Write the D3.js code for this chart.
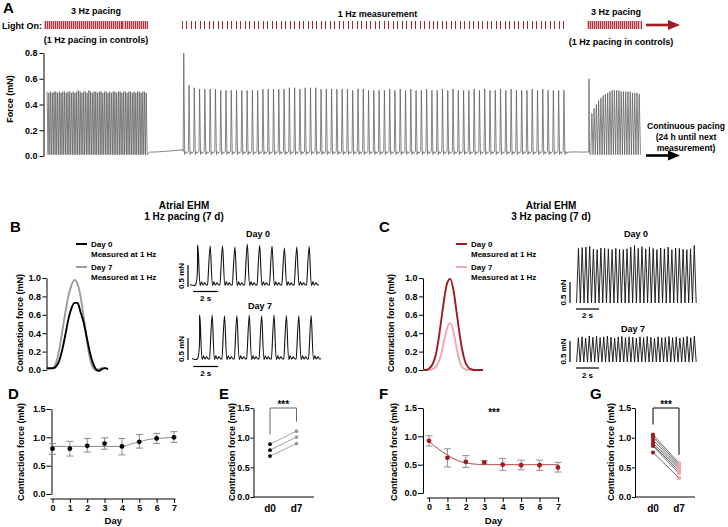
<!DOCTYPE html>
<html><head><meta charset="utf-8">
<script src="https://cdn.jsdelivr.net/npm/d3@7/dist/d3.min.js"></script>
<style>
html,body{margin:0;padding:0;background:#fff;}
svg text{font-family:"Liberation Sans",Arial,Helvetica,sans-serif;font-weight:bold;fill:#000;}
.axis text{font-size:9px;}
.axis path,.axis line{stroke:#000;stroke-width:1;}
</style></head>
<body>
<svg id="fig" width="728" height="527" viewBox="0 0 728 527"></svg>
<script>
// ================= DATA =================
// Panel A – continuous force recording (peak force per beat, mN)
const aForceTicks = [0, 0.2, 0.4, 0.6, 0.8];
const aStartPeaks = [0.50,0.49,0.50,0.49,0.50,0.50,0.49,0.50,0.49,0.50,
  0.50,0.49,0.50,0.50,0.49,0.50,0.49,0.50,0.51,0.50,
  0.49,0.50,0.50,0.49,0.51,0.50,0.49,0.50,0.50,0.49,
  0.50,0.50,0.49,0.50,0.50,0.49,0.50,0.49,0.50,0.50,
  0.49,0.50,0.50,0.49,0.50,0.50,0.49,0.50,0.50,0.49,
  0.50,0.49,0.50,0.50,0.49,0.50,0.50,0.49];
const aMeasurePeaks = [0.80,0.55,0.53,0.52,0.52,0.52,0.52,0.51,0.51,0.51,
  0.51,0.51,0.51,0.51,0.51,0.52,0.52,0.52,0.52,0.52,
  0.53,0.53,0.52,0.53,0.53,0.53,0.52,0.52,0.52,0.52,
  0.52,0.52,0.51,0.52,0.52,0.51,0.51,0.51,0.51,0.52,
  0.51,0.52,0.51,0.52,0.51,0.51,0.52,0.51,0.51,0.52,
  0.51,0.52,0.51,0.51,0.51,0.52,0.51,0.52,0.51,0.51,
  0.52,0.51,0.52,0.51,0.51,0.51,0.52,0.51,0.52,0.51,
  0.51,0.51,0.51];
const aEndSpike = 0.60;
const aEndPeaks = [0.33,0.37,0.40,0.43,0.45,0.47,0.48,0.49,0.50,0.51,0.51,
  0.51,0.51,0.50,0.50,0.50,0.50,0.50,0.49,0.49,0.49,0.48];
const aGap1Baseline = [[19.4,0.03],[21,0.032],[23,0.038],[25,0.045],[25.75,0.05]];
const aGap2Baseline = [[98.8,0.03],[100,0.032],[101.5,0.03],[102.5,0.032]];
const aPulsesStart = 52, aPulsesMeasure = 86, aPulsesEnd = 27;

// Panels B / C – averaged contraction (mN) sampled every 40 ms
const avgTimeMs = [0,40,80,120,160,200,240,280,320,360,400,440,480,520,560,600,640,680,720,760,800];
const avgTicks = [0, 0.2, 0.4, 0.6, 0.8, 1.0];
const bDay0Avg = [0.02,0.02,0.02,0.04,0.10,0.22,0.38,0.55,0.67,0.73,0.73,0.63,0.52,0.36,0.20,0.08,0.01,-0.01,0.01,0.02,0.01];
const bDay7Avg = [0.01,0.01,0.02,0.08,0.22,0.42,0.62,0.80,0.92,0.98,0.94,0.80,0.58,0.34,0.14,0.03,0.0,0.01,0.02,0.02,0.01];
const cDay0Avg = [0.0,0.0,0.02,0.06,0.15,0.32,0.55,0.78,0.95,0.99,0.88,0.66,0.42,0.22,0.09,0.03,0.01,0.0,0.0,0.0,0.0];
const cDay7Avg = [0.0,0.0,0.0,0.01,0.03,0.08,0.18,0.33,0.46,0.51,0.43,0.26,0.11,0.03,0.01,0.0,0.0,0.0,0.0,0.0,0.0];

// Panels B / C – example traces (peak force per beat, mN)
const bDay0Peaks = [0.91,0.89,0.89,0.86,0.93,0.90,0.89,0.84,0.86,0.88];
const bDay7Peaks = [1.00,1.00,0.98,0.99,1.00,0.98,1.00,0.99,0.98,0.99];
const cDay0Peaks = [1.30,1.32,1.33,1.35,1.28,1.27,1.31,1.30,1.29,1.27,
  1.30,1.28,1.27,1.29,1.33,1.37,1.30,1.34,1.29,1.33,
  1.30,1.27,1.31,1.29,1.33,1.27,1.31,1.30,1.28,1.27,1.29,1.37];
const cDay7Peaks = [0.58,0.60,0.57,0.62,0.59,0.61,0.58,0.60,0.62,0.59,
  0.57,0.60,0.61,0.58,0.60,0.59,0.57,0.60,0.58,0.61,
  0.59,0.57,0.60,0.58,0.59,0.61,0.58,0.60,0.57,0.59,0.61,0.58,0.62];

// Panels D / F – time course (mean, error range)
const days = [0,1,2,3,4,5,6,7];
const forceTicks = [0, 0.5, 1.0, 1.5];
const dMean = [0.80,0.80,0.85,0.89,0.84,0.92,0.98,1.00];
const dLow  = [0.70,0.67,0.74,0.79,0.69,0.81,0.89,0.91];
const dHigh = [0.89,0.93,0.98,0.99,0.98,1.05,1.07,1.10];
const dFitDays = [0,1,2,3,4,4.5,5,5.5,6,6.5,7];
const dFit     = [0.84,0.84,0.84,0.84,0.84,0.88,0.92,0.96,0.98,0.99,1.00];
const fMean = [0.92,0.62,0.55,0.54,0.50,0.49,0.49,0.45];
const fLow  = [0.83,0.46,0.45,0.51,0.40,0.41,0.40,0.37];
const fHigh = [1.01,0.78,0.66,0.57,0.61,0.58,0.58,0.54];
const fFitDays = [0,0.5,1,1.5,2,2.5,3,4,5,6,7];
const fFit     = [0.91,0.78,0.67,0.58,0.53,0.51,0.50,0.50,0.50,0.50,0.50];

// Panels E / G – paired d0 vs d7
const pairLabels = ["d0","d7"];
const eDay0 = [0.89,0.79,0.69];
const eDay7 = [1.11,1.01,0.90];
const gDay0 = [1.05,1.01,0.96,0.91,0.88,0.86,0.75];
const gDay7 = [0.57,0.54,0.51,0.48,0.44,0.40,0.32];

// ================= DRAWING =================
const svg = d3.select("#fig");
const RED = "#9e1c22", PINK = "#f2a6ad", GRAY = "#9c9c9c";

function txt(x, y, s, size, anchor) {
  return svg.append("text").attr("x", x).attr("y", y).attr("font-size", size)
    .attr("text-anchor", anchor || "middle").text(s);
}
function vtxt(x, y, s, size) {
  return svg.append("text").attr("transform", `translate(${x},${y}) rotate(-90)`)
    .attr("font-size", size).attr("text-anchor", "middle").text(s);
}
function pathOf(pts, x, y, curve) {
  return d3.line().x(d => x(d[0])).y(d => y(d[1])).curve(curve || d3.curveLinear)(pts);
}

// ---------- Panel A ----------
txt(3, 13, "A", 15, "start");
txt(96, 14, "3 Hz pacing", 9);
txt(2, 28.5, "Light On:", 9, "start");
txt(96, 43, "(1 Hz pacing in controls)", 9);
txt(377.5, 17, "1 Hz measurement", 9);
txt(616, 15, "3 Hz pacing", 9);
txt(621, 45, "(1 Hz pacing in controls)", 9);
txt(686, 128.5, "Continuous pacing", 8.6);
txt(686, 139.5, "(24 h until next", 8.6);
txt(686, 150.5, "measurement)", 8.6);

function hatch(x0, x1, n) {
  svg.append("rect").attr("x", x0).attr("y", 21).attr("width", x1 - x0).attr("height", 8).attr("fill", "#e6b0b4");
  const s = d3.scaleLinear().domain([0, n - 1]).range([x0 + 0.5, x1 - 0.5]);
  svg.append("g").selectAll("line").data(d3.range(n)).join("line")
    .attr("x1", d => Math.round(s(d)) + 0.5).attr("x2", d => Math.round(s(d)) + 0.5)
    .attr("y1", 21).attr("y2", 29).attr("stroke", "#b3353d").attr("stroke-width", 1);
}
hatch(44, 147, aPulsesStart);
hatch(587, 641, aPulsesEnd);
{
  const s = d3.scaleLinear().domain([0, aPulsesMeasure - 1]).range([182, 563]);
  svg.append("g").selectAll("line").data(d3.range(aPulsesMeasure)).join("line")
    .attr("x1", d => Math.round(s(d)) + 0.5).attr("x2", d => Math.round(s(d)) + 0.5)
    .attr("y1", 21).attr("y2", 29).attr("stroke", "#a8262e").attr("stroke-width", 1);
}
function arrow(y, color) {
  svg.append("line").attr("x1", 646).attr("x2", 670).attr("y1", y).attr("y2", y)
    .attr("stroke", color).attr("stroke-width", 2.6);
  svg.append("path").attr("d", `M668,${y - 5}L680,${y}L668,${y + 5}Z`).attr("fill", color);
}
arrow(25, RED);
arrow(155.5, "#000");

const xA = d3.scaleLinear().domain([0, 112.5]).range([47, 641]);
const yA = d3.scaleLinear().domain([0, 0.8]).range([156, 53]);
svg.append("g").attr("class", "axis").attr("transform", "translate(43.5,0)")
  .call(d3.axisLeft(yA).tickValues(aForceTicks).tickFormat(d3.format(".1f")).tickSize(4).tickSizeOuter(0).tickPadding(2));
vtxt(13, 99, "Force (mN)", 9);
{
  const pts = [];
  const per3 = 19.1 / aStartPeaks.length;
  aStartPeaks.forEach((p, i) => {
    const t = i * per3;
    pts.push([t + 0.02, p], [t + per3 * 0.62, 0.01]);
  });
  aGap1Baseline.forEach(d => pts.push(d));
  aMeasurePeaks.forEach((p, i) => {
    const t = 25.9 + i;
    pts.push([t - 0.12, 0.035], [t, p], [t + 0.18, 0.012], [t + 0.35, 0.034], [t + 0.55, 0.02], [t + 0.75, 0.032]);
  });
  aGap2Baseline.forEach(d => pts.push(d));
  pts.push([102.6, 0.03], [102.65, aEndSpike], [102.75, 0.02]);
  const perE = 9.4 / aEndPeaks.length;
  aEndPeaks.forEach((p, i) => {
    const t = 103.0 + i * perE;
    pts.push([t, 0.01], [t + perE * 0.45, p]);
  });
  pts.push([112.4, 0.01]);
  svg.append("path").attr("d", pathOf(pts, xA, yA)).attr("fill", "none")
    .attr("stroke", "#5c5c5c").attr("stroke-width", 0.75);
}

// ---------- Panels B / C titles ----------
txt(184, 208.5, "Atrial EHM", 10);
txt(184, 220, "1 Hz pacing (7 d)", 10);
txt(551, 208.5, "Atrial EHM", 10);
txt(551, 220, "3 Hz pacing (7 d)", 10);
txt(10, 232, "B", 15, "start");
txt(379, 232, "C", 15, "start");

function avgChart(ax, xEnd, s0, s7, col0, col7, lx) {
  const x = d3.scaleLinear().domain([avgTimeMs[0], avgTimeMs[avgTimeMs.length - 1]]).range([ax + 0.5, xEnd]);
  const y = d3.scaleLinear().domain([0, 1]).range([370, 278]);
  svg.append("g").attr("class", "axis").attr("transform", `translate(${ax},0)`)
    .call(d3.axisLeft(y).tickValues(avgTicks).tickFormat(d3.format(".1f")).tickSize(4).tickSizeOuter(0).tickPadding(1.5));
  const ptsOf = s => s.map((v, i) => [avgTimeMs[i], v]);
  svg.append("path").attr("d", pathOf(ptsOf(s7), x, y, d3.curveMonotoneX)).attr("fill", "none").attr("stroke", col7).attr("stroke-width", 1.9);
  svg.append("path").attr("d", pathOf(ptsOf(s0), x, y, d3.curveMonotoneX)).attr("fill", "none").attr("stroke", col0).attr("stroke-width", 1.9);
  // legend
  [[col0, "Day 0", 244], [col7, "Day 7", 267]].forEach(([c, lab, ly]) => {
    svg.append("line").attr("x1", lx).attr("x2", lx + 11).attr("y1", ly).attr("y2", ly).attr("stroke", c).attr("stroke-width", 2);
    txt(lx + 15, ly + 3, lab, 8, "start");
    txt(lx + 15, ly + 13, "Measured at 1 Hz", 8, "start");
  });
}
avgChart(46.5, 108, bDay0Avg, bDay7Avg, "#000", GRAY, 76);
vtxt(23, 323, "Contraction force (mN)", 9);
avgChart(423, 483, cDay0Avg, cDay7Avg, RED, PINK, 456);
vtxt(393.5, 323, "Contraction force (mN)", 9);

// ---------- example traces ----------
function scaleBars(xScale, yScale, barX, vOff, hY, labX, sLabY, sBarStart) {
  svg.append("line").attr("x1", barX).attr("x2", barX).attr("y1", yScale(0) + vOff).attr("y2", yScale(0.5) + vOff)
    .attr("stroke", "#000").attr("stroke-width", 1.2);
  vtxt(labX, (yScale(0) + yScale(0.5)) / 2 + vOff, "0.5 mN", 8);
  svg.append("line").attr("x1", xScale(sBarStart)).attr("x2", xScale(sBarStart + 2)).attr("y1", hY).attr("y2", hY)
    .attr("stroke", "#000").attr("stroke-width", 1.2);
  txt((xScale(sBarStart) + xScale(sBarStart + 2)) / 2, sLabY, "2 s", 8);
}
function bTrace(peaks, xS, yS) {
  const pts = [[0, 0.01]];
  peaks.forEach((p, i) => {
    const t = 0.62 + i * 0.99;
    pts.push([t - 0.2, 0.0], [t, p], [t + 0.2, -0.01], [t + 0.3, 0.07], [t + 0.42, 0.0], [t + 0.55, 0.05], [t + 0.68, 0.0], [t + 0.78, 0.01]);
  });
  svg.append("path").attr("d", pathOf(pts, xS, yS, d3.curveCatmullRom.alpha(0.5))).attr("fill", "none")
    .attr("stroke", "#111").attr("stroke-width", 1.1);
}
function cTrace(peaks, xS, yS, period) {
  const pts = [];
  peaks.forEach((p, i) => {
    const t = 0.05 + i * period;
    pts.push([t, 0], [t + period * 0.5, p]);
  });
  pts.push([0.05 + peaks.length * period, 0]);
  svg.append("path").attr("d", pathOf(pts, xS, yS)).attr("fill", "none")
    .attr("stroke", "#111").attr("stroke-width", 0.9);
}
// B day 0
txt(258, 236.5, "Day 0", 9);
const xB0 = d3.scaleLinear().domain([0, 10.2]).range([190, 317.5]);
const yB0 = d3.scaleLinear().domain([0, 0.5]).range([285, 263]);
bTrace(bDay0Peaks, xB0, yB0);
scaleBars(xB0, yB0, 188, 2, 291.5, 184, 300.5, 0.25);
// B day 7
txt(260, 308.5, "Day 7", 9);
const xB7 = d3.scaleLinear().domain([0, 10.2]).range([192, 319.5]);
const yB7 = d3.scaleLinear().domain([0, 0.5]).range([359, 337]);
bTrace(bDay7Peaks, xB7, yB7);
scaleBars(xB7, yB7, 188, 1, 366.5, 184, 376, 0.1);
// C day 0
txt(636, 236.5, "Day 0", 9);
const xC = d3.scaleLinear().domain([0, 10.5]).range([576, 696.75]);
const yC0 = d3.scaleLinear().domain([0, 0.5]).range([303, 282]);
cTrace(cDay0Peaks, xC, yC0, 10.4 / cDay0Peaks.length);
scaleBars(xC, yC0, 570, 0, 309, 566, 318, 0);
// C day 7
txt(633, 331.5, "Day 7", 9);
const yC7 = d3.scaleLinear().domain([0, 0.5]).range([362, 341]);
cTrace(cDay7Peaks, xC, yC7, 10.4 / cDay7Peaks.length);
scaleBars(xC, yC7, 570, 0, 368, 566, 378, 0);

// ---------- Panels D / F ----------
function timeCourse(axX, x0, x1, yTop, yBot, xAxisY, mean, low, high, fitDays, fit, dotCol, fitCol, errCol) {
  const x = d3.scaleLinear().domain([0, 7]).range([x0, x1]);
  const y = d3.scaleLinear().domain([0, 1.5]).range([yBot, yTop]);
  svg.append("g").attr("class", "axis").attr("transform", `translate(${axX},0)`)
    .call(d3.axisLeft(y).tickValues(forceTicks).tickFormat(d3.format(".1f")).tickSize(5).tickSizeOuter(0).tickPadding(1));
  const xa = svg.append("g").attr("class", "axis").attr("transform", `translate(0,${xAxisY})`)
    .call(d3.axisBottom(x).tickValues(days).tickFormat(d3.format("d")).tickSize(4).tickSizeOuter(0).tickPadding(2));
  xa.select(".domain").attr("d", `M${x0 - 2},0H${x1 + 1.5}`);
  txt((x0 + x1) / 2, 524, "Day", 9.5);
  svg.append("path").attr("d", pathOf(fitDays.map((d, i) => [d, fit[i]]), x, y, d3.curveMonotoneX))
    .attr("fill", "none").attr("stroke", fitCol).attr("stroke-width", 1);
  const g = svg.append("g");
  days.forEach((d, i) => {
    g.append("line").attr("x1", x(d)).attr("x2", x(d)).attr("y1", y(low[i])).attr("y2", y(high[i])).attr("stroke", errCol).attr("stroke-width", 1);
    [low[i], high[i]].forEach(v => g.append("line").attr("x1", x(d) - 3.5).attr("x2", x(d) + 3.5).attr("y1", y(v)).attr("y2", y(v)).attr("stroke", errCol).attr("stroke-width", 1));
  });
  g.selectAll("circle").data(days).join("circle").attr("cx", d => x(d)).attr("cy", (d, i) => y(mean[i]))
    .attr("r", 2.4).attr("fill", dotCol);
}
txt(8, 399, "D", 15, "start");
timeCourse(51.5, 52.5, 174, 409, 494, 499, dMean, dLow, dHigh, dFitDays, dFit, "#000", "#8a8a8a", "#8a8a8a");
vtxt(23.5, 452, "Contraction force (mN)", 9);
txt(379, 399, "F", 15, "start");
timeCourse(423, 429, 558, 408, 493, 498, fMean, fLow, fHigh, fFitDays, fFit, RED, "#c4454c", "#909090");
vtxt(396.5, 452, "Contraction force (mN)", 9);
txt(494, 416, "***", 10);

// ---------- Panels E / G ----------
function paired(axX, axEnd, xd0, xd7, v0, v7, col0, col7, lineCol, bracketL, bracketR, bracketCol, r) {
  const x = d3.scalePoint().domain(pairLabels).range([xd0, xd7]);
  const y = d3.scaleLinear().domain([0, 1.5]).range([497, 408]);
  svg.append("g").attr("class", "axis").attr("transform", `translate(${axX},0)`)
    .call(d3.axisLeft(y).tickValues(forceTicks).tickFormat(d3.format(".1f")).tickSize(3).tickSizeOuter(0).tickPadding(0.8));
  svg.append("line").attr("x1", axX).attr("x2", axEnd).attr("y1", 497).attr("y2", 497).attr("stroke", "#000").attr("stroke-width", 1);
  pairLabels.forEach(l => txt(x(l), 512, l, 10));
  v0.forEach((v, i) => svg.append("line").attr("x1", x("d0")).attr("x2", x("d7")).attr("y1", y(v)).attr("y2", y(v7[i]))
    .attr("stroke", lineCol).attr("stroke-width", 0.9));
  v0.forEach(v => svg.append("circle").attr("cx", x("d0")).attr("cy", y(v)).attr("r", r).attr("fill", col0));
  v7.forEach(v => svg.append("circle").attr("cx", x("d7")).attr("cy", y(v)).attr("r", r).attr("fill", col7));
  svg.append("path").attr("d", `M${x("d0")},${y(bracketL)}V${y(1.5)}H${x("d7")}V${y(bracketR)}`)
    .attr("fill", "none").attr("stroke", bracketCol).attr("stroke-width", 1);
  txt((x("d0") + x("d7")) / 2, 408, "***", 10);
}
txt(219, 399, "E", 15, "start");
paired(253.5, 314, 270, 296.5, eDay0, eDay7, "#000", GRAY, "#9a9a9a", 1.05, 1.27, "#666", 1.9);
vtxt(235, 452, "Contraction force (mN)", 9);
txt(590, 399, "G", 15, "start");
paired(635, 695, 653, 679, gDay0, gDay7, RED, PINK, "#555", 1.22, 0.71, "#000", 2.1);
vtxt(613.5, 452, "Contraction force (mN)", 9);
</script>
</body></html>
